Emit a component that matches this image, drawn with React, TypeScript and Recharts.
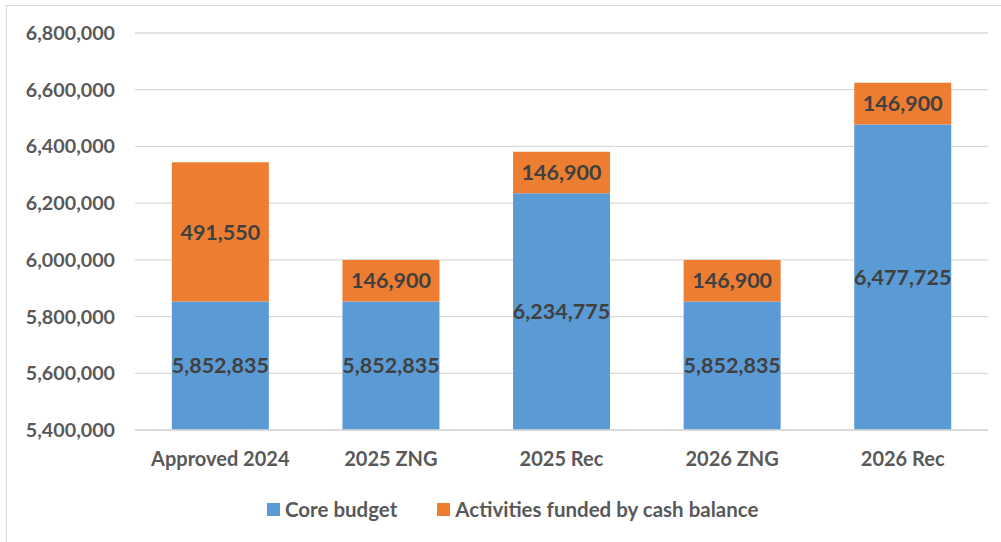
import React from 'react';
import { BarChart, Bar, XAxis, YAxis, CartesianGrid, Legend, LabelList } from 'recharts';

const categories = ['Approved 2024', '2025 ZNG', '2025 Rec', '2026 ZNG', '2026 Rec'];
const coreBudget = [5852835, 5852835, 6234775, 5852835, 6477725];
const cashBalance = [491550, 146900, 146900, 146900, 146900];
const yTicks = [5400000, 5600000, 5800000, 6000000, 6200000, 6400000, 6600000, 6800000];
const seriesOrder = ['Core budget', 'Activities funded by cash balance'];

const data = categories.map((name, i) => ({ name, core: coreBudget[i], cash: cashBalance[i] }));

const FONT = 'Lato, "Open Sans", sans-serif';
const fmt = (v: number) => v.toLocaleString('en-US');

const LegendContent = (props: any) => {
  const payload = [...(props.payload || [])].sort(
    (a: any, b: any) => seriesOrder.indexOf(a.value) - seriesOrder.indexOf(b.value)
  );
  return (
    <div style={{ display: 'flex', alignItems: 'center', fontFamily: FONT, fontWeight: 700, fontSize: 20.5, color: '#595959', whiteSpace: 'nowrap', lineHeight: '24px' }}>
      {payload.map((p: any, i: number) => (
        <div key={i} style={{ display: 'flex', alignItems: 'center', marginRight: i === 0 ? 40 : 0 }}>
          <div style={{ width: 13, height: 13, background: p.color, marginRight: 5 }} />
          <span>{p.value}</span>
        </div>
      ))}
    </div>
  );
};

export default function App() {
  return (
    <div style={{ position: 'fixed', left: 0, top: 0, width: 1001, height: 542, overflow: 'hidden', background: '#fff' }}>
      <div style={{ position: 'absolute', left: 6, top: 5, width: 1020, height: 560, border: '1.5px solid #d9d9d9', boxSizing: 'border-box' }} />
      <div style={{ position: 'absolute', left: 0, top: 0 }}>
        <BarChart width={1001} height={542} data={data} margin={{ top: 33, right: 13, left: 0, bottom: 82 }} barCategoryGap="21.6%">
          <CartesianGrid vertical={false} stroke="#d9d9d9" strokeWidth={1.3} />
          <XAxis
            dataKey="name"
            tickLine={false}
            axisLine={{ stroke: '#d9d9d9', strokeWidth: 1.3 }}
            tickSize={6}
            tickMargin={16}
            tick={{ fill: '#595959', fontSize: 20, fontWeight: 700, fontFamily: FONT }}
          />
          <YAxis
            type="number"
            domain={[5400000, 6800000]}
            ticks={yTicks}
            allowDataOverflow
            width={135}
            tickLine={false}
            axisLine={false}
            tickSize={6}
            tickMargin={14}
            tickFormatter={fmt}
            tick={{ fill: '#595959', fontSize: 19.7, fontWeight: 700, fontFamily: FONT }}
          />
          <Legend
            layout="horizontal"
            verticalAlign="middle"
            align="center"
            content={<LegendContent />}
            wrapperStyle={{ left: 267, top: 497, width: 'auto' }}
          />
          <Bar dataKey="core" name="Core budget" stackId="a" fill="#5B9BD5" isAnimationActive={false}>
            <LabelList dataKey="core" position="center" formatter={(v: any) => fmt(Number(v))} style={{ fill: '#404040', fontSize: 21.5, fontWeight: 700, fontFamily: FONT }} />
          </Bar>
          <Bar dataKey="cash" name="Activities funded by cash balance" stackId="a" fill="#ED7D31" isAnimationActive={false}>
            <LabelList dataKey="cash" position="center" formatter={(v: any) => fmt(Number(v))} style={{ fill: '#404040', fontSize: 21.5, fontWeight: 700, fontFamily: FONT }} />
          </Bar>
        </BarChart>
      </div>
    </div>
  );
}
